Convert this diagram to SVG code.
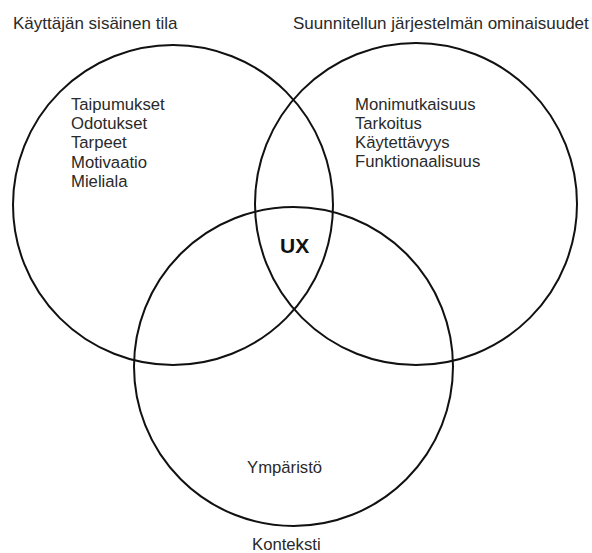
<svg xmlns="http://www.w3.org/2000/svg" width="592" height="553" viewBox="0 0 592 553">
<style>
.c{fill:none;stroke:#111;stroke-width:2}
.t{font-family:"Liberation Sans",Arial,sans-serif;font-size:16.7px;fill:#2a2a2a}
.h{font-size:17px}
.b{font-family:"Liberation Sans",Arial,sans-serif;font-size:21px;font-weight:bold;fill:#111}
</style>
<rect width="592" height="553" fill="#fff"/>
<g id="user">
<circle class="c" cx="173" cy="205" r="160"/>
<text class="t h" x="13" y="29">Käyttäjän sisäinen tila</text>
<text class="t" x="71" y="110">Taipumukset</text>
<text class="t" x="71" y="129">Odotukset</text>
<text class="t" x="71" y="148">Tarpeet</text>
<text class="t" x="71" y="168">Motivaatio</text>
<text class="t" x="71" y="187">Mieliala</text>
</g>
<g id="system">
<circle class="c" cx="416" cy="204" r="161"/>
<text class="t h" x="293" y="29">Suunnitellun järjestelmän ominaisuudet</text>
<text class="t" x="355" y="110">Monimutkaisuus</text>
<text class="t" x="355" y="129">Tarkoitus</text>
<text class="t" x="355" y="148">Käytettävyys</text>
<text class="t" x="355" y="167">Funktionaalisuus</text>
</g>
<g id="context">
<circle class="c" cx="293.5" cy="366.5" r="159.5"/>
<text class="t" x="247" y="473">Ympäristö</text>
<text class="t" x="252" y="550">Konteksti</text>
</g>
<g id="ux">
<text class="b" x="280" y="253">UX</text>
</g>
<g id="connectors"></g>
</svg>
